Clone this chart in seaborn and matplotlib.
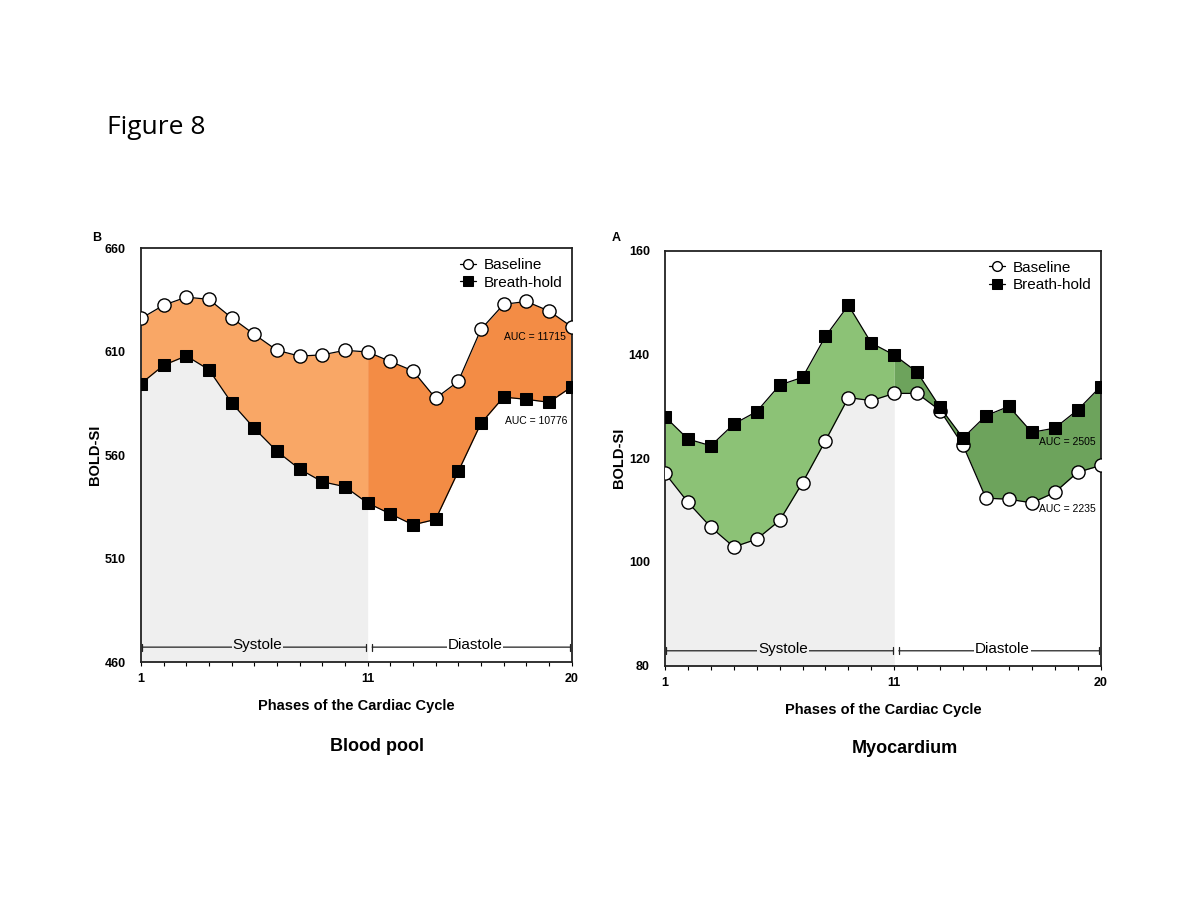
import numpy as np
import pandas as pd
import seaborn as sns
import matplotlib.pyplot as plt
import matplotlib.transforms as mtransforms

# phases of the cardiac cycle
phases = np.arange(1, 21)
tick_labels = ['1'] + [''] * 9 + ['11'] + [''] * 8 + ['20']

# Blood pool (panel B)
pool_baseline = [626.0, 632.4, 636.3, 635.2, 626.3, 618.3, 610.6, 607.8, 608.4, 610.6,
                 609.8, 605.2, 600.7, 587.4, 595.6, 620.7, 632.8, 634.2, 629.6, 622.0]
pool_breath = [594.5, 603.4, 607.9, 601.2, 585.2, 572.9, 561.8, 553.2, 547.1, 544.7,
               536.8, 531.6, 526.3, 528.9, 552.1, 575.3, 588.0, 586.9, 585.5, 592.9]

# Myocardium (panel A)
myo_baseline = [117.1, 111.5, 106.7, 102.9, 104.4, 108.0, 115.3, 123.4, 131.7, 131.1,
                132.5, 132.5, 129.2, 122.5, 112.3, 112.1, 111.4, 113.4, 117.3, 118.6]
myo_breath = [128.0, 123.7, 122.4, 126.6, 129.0, 134.1, 135.6, 143.5, 149.5, 142.2,
              139.9, 136.6, 129.8, 123.9, 128.2, 130.0, 125.0, 125.8, 129.3, 133.8]

sns.set_style('white')
plt.rcParams['font.family'] = ['Liberation Sans', 'DejaVu Sans']
plt.rcParams.update({'text.color': 'black', 'axes.labelcolor': 'black',
                     'xtick.color': 'black', 'ytick.color': 'black'})

fig = plt.figure(figsize=(12, 9), dpi=100)
ax_pool = fig.add_axes([0.1175, 0.2644, 0.3592, 0.4600])
ax_myo = fig.add_axes([0.5542, 0.2603, 0.3633, 0.4611])

GREY = '#efefef'


def draw_panel(ax, baseline, breath, ylim, yticks, light, dark, aucs):
    df = pd.DataFrame({'phase': phases, 'Baseline': baseline, 'Breath-hold': breath})
    lo = np.minimum(df['Baseline'], df['Breath-hold'])
    sys_mask = df['phase'] <= 11
    dia_mask = df['phase'] >= 11

    # grey systole background below the lower curve
    ax.fill_between(df['phase'], ylim[0], lo, where=sys_mask, color=GREY, lw=0, zorder=0)
    # area between the two curves
    ax.fill_between(df['phase'], df['Baseline'], df['Breath-hold'], where=sys_mask,
                    color=light, lw=0, zorder=1)
    ax.fill_between(df['phase'], df['Baseline'], df['Breath-hold'], where=dia_mask,
                    color=dark, lw=0, zorder=1)

    sns.lineplot(data=df, x='phase', y='Baseline', ax=ax, color='black', lw=0.9,
                 marker='o', markersize=9.5, markerfacecolor='white',
                 markeredgecolor='black', markeredgewidth=1.0, label='Baseline', zorder=3)
    sns.lineplot(data=df, x='phase', y='Breath-hold', ax=ax, color='black', lw=0.9,
                 marker='s', markersize=8.5, markerfacecolor='black',
                 markeredgecolor='black', label='Breath-hold', zorder=3)

    ax.set_xlim(1, 20.02)
    ax.set_ylim(*ylim)
    ax.set_yticks(yticks)
    ax.set_xticks(phases)
    ax.set_xticklabels(tick_labels)
    ax.tick_params(axis='x', direction='out', length=3, width=0.8, pad=5,
                   bottom=True, labelsize=9)
    ax.tick_params(axis='y', length=0, pad=11, labelsize=9)
    for lab in ax.get_xticklabels() + ax.get_yticklabels():
        lab.set_fontweight('bold')
    for sp in ax.spines.values():
        sp.set_visible(True)
        sp.set_color('#222222')
        sp.set_linewidth(1.3)

    ax.set_xlabel('Phases of the Cardiac Cycle', fontsize=10.5, fontweight='bold', labelpad=10)
    ax.set_ylabel('BOLD-SI', fontsize=10.5, fontweight='bold', labelpad=2)

    # systole / diastole brackets
    trans = mtransforms.blended_transform_factory(ax.transData, ax.transAxes)
    for (x0, x1, name, bg) in [(1.05, 10.95, 'Systole', GREY), (11.2, 19.95, 'Diastole', 'white')]:
        ax.annotate('', xy=(x0, 0.036), xytext=(x1, 0.036), xycoords=trans,
                    arrowprops=dict(arrowstyle='|-|, widthA=0.25, widthB=0.25',
                                    color='#222222', lw=0.9, shrinkA=0, shrinkB=0),
                    zorder=4)
        ax.text((x0 + x1) / 2 + 0.15, 0.04, name, transform=trans, ha='center', va='center',
                fontsize=11, bbox=dict(facecolor=bg, edgecolor='none', pad=0.5), zorder=5)

    for (x, y, txt) in aucs:
        ax.text(x, y, txt, ha='right', va='center', fontsize=7.5, zorder=5)

    leg = ax.legend(loc='upper right', frameon=False, fontsize=11, handlelength=1.0,
                    handletextpad=0.5, labelspacing=0.25, borderaxespad=0.25,
                    bbox_to_anchor=(1.0, 1.0))
    for h in leg.legend_handles:
        h.set_markersize(7)


draw_panel(ax_pool, pool_baseline, pool_breath, (460, 660), [460, 510, 560, 610, 660],
           '#f9a766', '#f38c45',
           [(19.75, 617.0, 'AUC = 11715'), (19.8, 576.5, 'AUC = 10776')])
draw_panel(ax_myo, myo_baseline, myo_breath, (80, 160), [80, 100, 120, 140, 160],
           '#8cc276', '#6da35c',
           [(19.8, 123.2, 'AUC = 2505'), (19.8, 110.3, 'AUC = 2235')])

fig.text(0.089, 0.858, 'Figure 8', fontsize=19, family=['Open Sans', 'DejaVu Sans'], va='center')
fig.text(0.077, 0.736, 'B', fontsize=9, fontweight='bold', va='center')
fig.text(0.510, 0.736, 'A', fontsize=9, fontweight='bold', va='center')
fig.text(0.314, 0.171, 'Blood pool', fontsize=13, fontweight='bold', ha='center', va='center')
fig.text(0.754, 0.168, 'Myocardium', fontsize=13, fontweight='bold', ha='center', va='center')

fig.savefig('out.png', dpi=100, facecolor='white')
